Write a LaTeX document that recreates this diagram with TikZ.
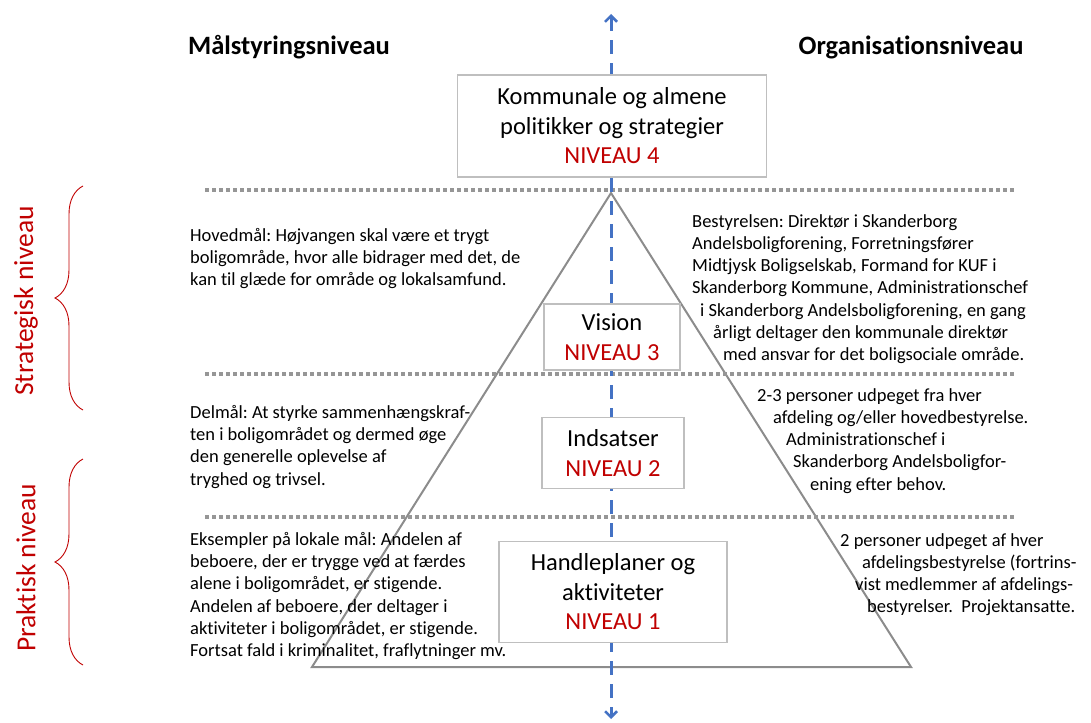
\documentclass[tikz,border=0pt]{standalone}
\usepackage{fontspec}
\setmainfont{Carlito}[Ligatures=NoCommon]
\usepackage{xcolor}
\usepackage{tikz}
\usetikzlibrary{arrows.meta}
\usetikzlibrary{decorations.pathreplacing}
\definecolor{niveauRed}{RGB}{192,0,0}
\definecolor{axisBlue}{RGB}{68,114,196}
\definecolor{lineGray}{RGB}{140,140,140}
\definecolor{dotGray}{RGB}{150,150,150}
\definecolor{boxGray}{RGB}{191,191,191}
\frenchspacing

\begin{document}
\begin{tikzpicture}[x=1pt,y=-1pt,
		niveau box/.style={draw=boxGray, line width=1.2pt, fill=white, align=center,
			inner sep=0pt, font=\fontsize{24.5}{29.5}\selectfont},
		goal text/.style={anchor=north west, align=left, inner sep=0pt,
			font=\fontsize{18.5}{22.3}\selectfont},
		head text/.style={font=\fontsize{26.5}{30}\selectfont\bfseries},
		side text/.style={rotate=90, text=niveauRed, font=\fontsize{27.5}{30}\selectfont},
		level line/.style={dotGray, line width=4pt, dash pattern=on 4pt off 3pt},
		level brace/.style={niveauRed, line width=0.9pt, decorate,
			decoration={brace, amplitude=28pt}}]
		\useasboundingbox (0,0) rectangle (1091,722);
		
		% pyramide
		\coordinate (apex) at (611,193);
		\coordinate (baseL) at (312,667);
		\coordinate (baseR) at (911,667);
		\draw[lineGray, line width=2pt, line join=miter] (apex) -- (baseL) -- (baseR) -- cycle;
		
		% niveaugraenser
		\foreach \ly in {190,374,517}
		\draw[level line] (205,\ly) -- (1015,\ly);
		
		% akse
		\coordinate (axisTop) at (611,14);
		\coordinate (axisBot) at (611,719);
		\draw[axisBlue, line width=3pt, dash pattern=on 14pt off 9pt,
		{Straight Barb[length=6pt,width=12pt,line width=2.5pt]}-{Straight Barb[length=6pt,width=12pt,line width=2.5pt]}]
		(axisTop) -- (axisBot);
		
		\node[head text] (maal) at (289,47) {Målstyringsniveau};
		\node[head text] (org) at (911,47) {Organisationsniveau};
		
		\node[niveau box, minimum width=309pt, minimum height=102pt] (niv4) at (612,126)
		{Kommunale og almene\\ politikker og strategier\\ \textcolor{niveauRed}{NIVEAU 4}};
		\node[niveau box, minimum width=136pt, minimum height=66pt] (niv3) at (612,337)
		{Vision\\ \textcolor{niveauRed}{NIVEAU 3}};
		\node[niveau box, minimum width=142pt, minimum height=71pt] (niv2) at (613,453)
		{Indsatser\\ \textcolor{niveauRed}{NIVEAU 2}};
		\node[niveau box, minimum width=228pt, minimum height=101pt] (niv1) at (613,592)
		{Handleplaner og\\ aktiviteter\\ \textcolor{niveauRed}{NIVEAU 1}};
		
		% maal
		\node[goal text] (hoved) at (190,228)
		{Hovedmål: Højvangen skal være et trygt\\
			boligområde, hvor alle bidrager med det, de\\
			kan til glæde for område og lokalsamfund.};
		\node[goal text] (delmaal) at (190,405)
		{Delmål: At styrke sammenhængskraf-\\
			ten i boligområdet og dermed øge\\
			den generelle oplevelse af\\
			tryghed og trivsel.};
		\node[goal text] (lokal) at (190,532)
		{Eksempler på lokale mål: Andelen af\\
			beboere, der er trygge ved at færdes\\
			alene i boligområdet, er stigende.\\
			Andelen af beboere, der deltager i\\
			aktiviteter i boligområdet, er stigende.\\
			Fortsat fald i kriminalitet, fraflytninger mv.};
		
		% organisation
		\node[goal text] (bestyr) at (692,214)
		{Bestyrelsen: Direktør i Skanderborg\\
			Andelsboligforening, Forretningsfører\\
			Midtjysk Boligselskab, Formand for KUF i\\
			Skanderborg Kommune, Administrationschef\\
			\hspace*{8pt}i Skanderborg Andelsboligforening, en gang\\
			\hspace*{21pt}årligt deltager den kommunale direktør\\
			\hspace*{31pt}med ansvar for det boligsociale område.};
		\node[goal text] (afdel) at (757,388)
		{2-3 personer udpeget fra hver\\
			\hspace*{16pt}afdeling og/eller hovedbestyrelse.\\
			\hspace*{29pt}Administrationschef i\\
			\hspace*{36pt}Skanderborg Andelsboligfor-\\
			\hspace*{53pt}ening efter behov.};
		\node[goal text] (afdbest) at (840,533)
		{2 personer udpeget af hver\\
			\hspace*{22pt}afdelingsbestyrelse (fortrins-\\
			\hspace*{15pt}vist medlemmer af afdelings-\\
			\hspace*{27pt}bestyrelser.~~Projektansatte.};
		
		% niveauer
		\draw[level brace] (83,410) -- (83,186);
		\draw[level brace] (83,665) -- (83,459);
		\node[side text] (strat) at (26,301) {Strategisk niveau};
		\node[side text] (prakt) at (26,568) {Praktisk niveau};
	\end{tikzpicture}
\end{document}
